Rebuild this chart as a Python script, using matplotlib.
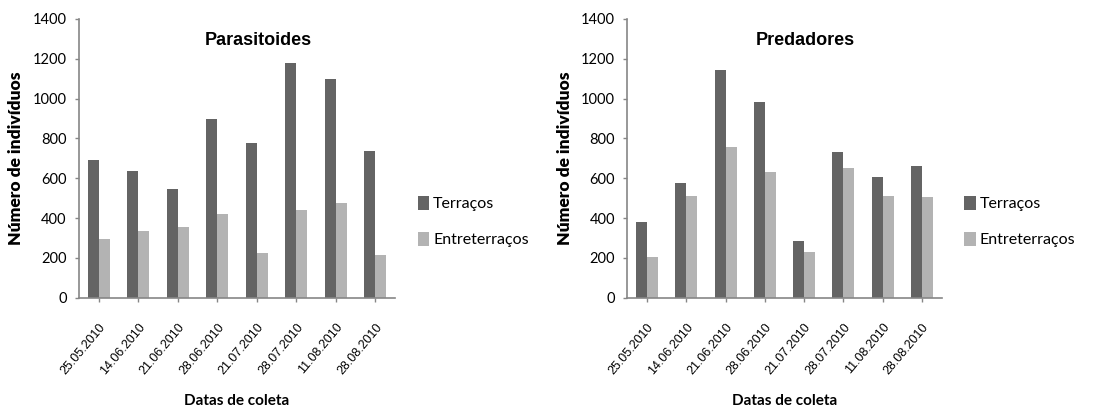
import numpy as np
import matplotlib
matplotlib.use('Agg')
import matplotlib.pyplot as plt

# Datas de coleta
datas = ['25.05.2010', '14.06.2010', '21.06.2010', '28.06.2010',
         '21.07.2010', '28.07.2010', '11.08.2010', '28.08.2010']

# Parasitoides
par_terracos = [690, 636, 544, 896, 777, 1177, 1099, 738]
par_entre = [293, 333, 355, 419, 223, 442, 474, 214]

# Predadores
pred_terracos = [378, 574, 1146, 981, 285, 730, 605, 660]
pred_entre = [206, 512, 755, 630, 229, 653, 512, 504]

cor_escura = '#646464'
cor_clara = '#b3b3b3'
cor_eixo = '#868686'

fig = plt.figure(figsize=(11.07, 4.16), dpi=100)

paineis = [
    ('Parasitoides', par_terracos, par_entre, [0.0714, 0.2844, 0.2855, 0.670]),
    ('Predadores', pred_terracos, pred_entre, [0.5667, 0.2844, 0.2840, 0.670]),
]

x = np.arange(len(datas))
w = 0.28

for titulo, terr, entre, pos in paineis:
    ax = fig.add_axes(pos)
    ax.bar(x - w / 2, terr, width=w, color=cor_escura, label='Terraços')
    ax.bar(x + w / 2, entre, width=w, color=cor_clara, label='Entreterraços')

    ax.set_xlim(-0.5, len(datas) - 0.5)
    ax.set_ylim(0, 1400)
    ax.set_yticks(range(0, 1401, 200))
    ax.set_xticks(x)
    ax.set_xticklabels(datas, rotation=50, ha='right', rotation_mode='anchor',
                       fontsize=9, family='Liberation Sans')
    for lab in ax.get_yticklabels():
        lab.set_family('Lato')
        lab.set_fontsize(10.5)

    for s in ['top', 'right']:
        ax.spines[s].set_visible(False)
    for s in ['left', 'bottom']:
        ax.spines[s].set_color(cor_eixo)
        ax.spines[s].set_linewidth(1.2)
    ax.tick_params(axis='y', length=3, width=1, color=cor_eixo, pad=6)
    ax.tick_params(axis='x', length=3, width=1, color=cor_eixo, pad=14)

    ax.text(0.566, 0.921, titulo, transform=ax.transAxes, ha='center',
            va='center', fontsize=13, fontweight='bold', family='Liberation Sans')
    ax.set_ylabel('Número de indivíduos', fontsize=12.5, fontweight='heavy',
                  family='Lato', labelpad=6)
    ax.set_xlabel('Datas de coleta', fontsize=11, fontweight='bold',
                  family='Lato', labelpad=12)

    ax.legend(loc='center left', bbox_to_anchor=(1.072, 0.272), frameon=False,
              prop={'family': 'Lato', 'size': 11.5}, borderpad=0, borderaxespad=0,
              handlelength=0.7, handleheight=0.9, handletextpad=0.25,
              labelspacing=1.3)

fig.savefig('out.png', dpi=100)
